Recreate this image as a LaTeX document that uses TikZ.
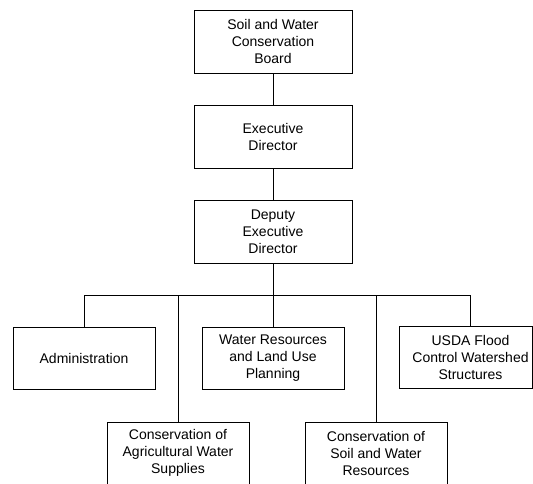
\documentclass[tikz,border=0pt]{standalone}
\usepackage{fontspec}
\setmainfont{Liberation Sans}
\begin{document}
\begin{tikzpicture}[x=1pt,y=-1pt,
  box/.style={draw, line width=1pt, rectangle, align=center, inner sep=0pt,
    font=\fontsize{14}{17}\selectfont, minimum height=63pt, minimum width=142pt},
  txt/.style={align=center, inner sep=0pt, font=\fontsize{14}{17}\selectfont},
  conn/.style={line width=1pt}]
\useasboundingbox (0,0) rectangle (533,483);
\begin{scope}
\clip (0,0) rectangle (533,483);
\node[box, minimum width=158pt] (board) at (273,41.5) {Soil and Water\\Conservation\\Board};
\node[box, minimum width=158pt] (exec) at (273,136.5) {Executive\\Director};
\node[box, minimum width=158pt] (deputy) at (273,231.5) {Deputy\\Executive\\Director};
\node[box, minimum height=62pt] (admin) at (84,358) {Administration};
\node[box, minimum height=62pt] (water) at (273,358) {Water Resources\\and Land Use\\Planning};
\node[box, minimum height=62pt, minimum width=133pt] (usda) at (465.5,357.5) {};
\node[txt] (usdatext) at (470.5,357.5) {USDA Flood\\Control Watershed\\Structures};
\node[box, minimum height=62pt] (agri) at (178,453) {Conservation of\\Agricultural Water\\Supplies};
\node[box, minimum height=62pt] (soilres) at (376,453) {Conservation of\\Soil and Water\\Resources};
\coordinate (bus) at (273,295);
\draw[conn] (board) -- (exec);
\draw[conn] (exec) -- (deputy);
\draw[conn] (deputy.south) -- (water.north);
\draw[conn] (admin.north) |- (bus);
\draw[conn] (bus) -| (usdatext.north |- usda.north);
\draw[conn] (bus) -| (agri.north);
\draw[conn] (bus) -| (soilres.north);
\end{scope}
\end{tikzpicture}
\end{document}
